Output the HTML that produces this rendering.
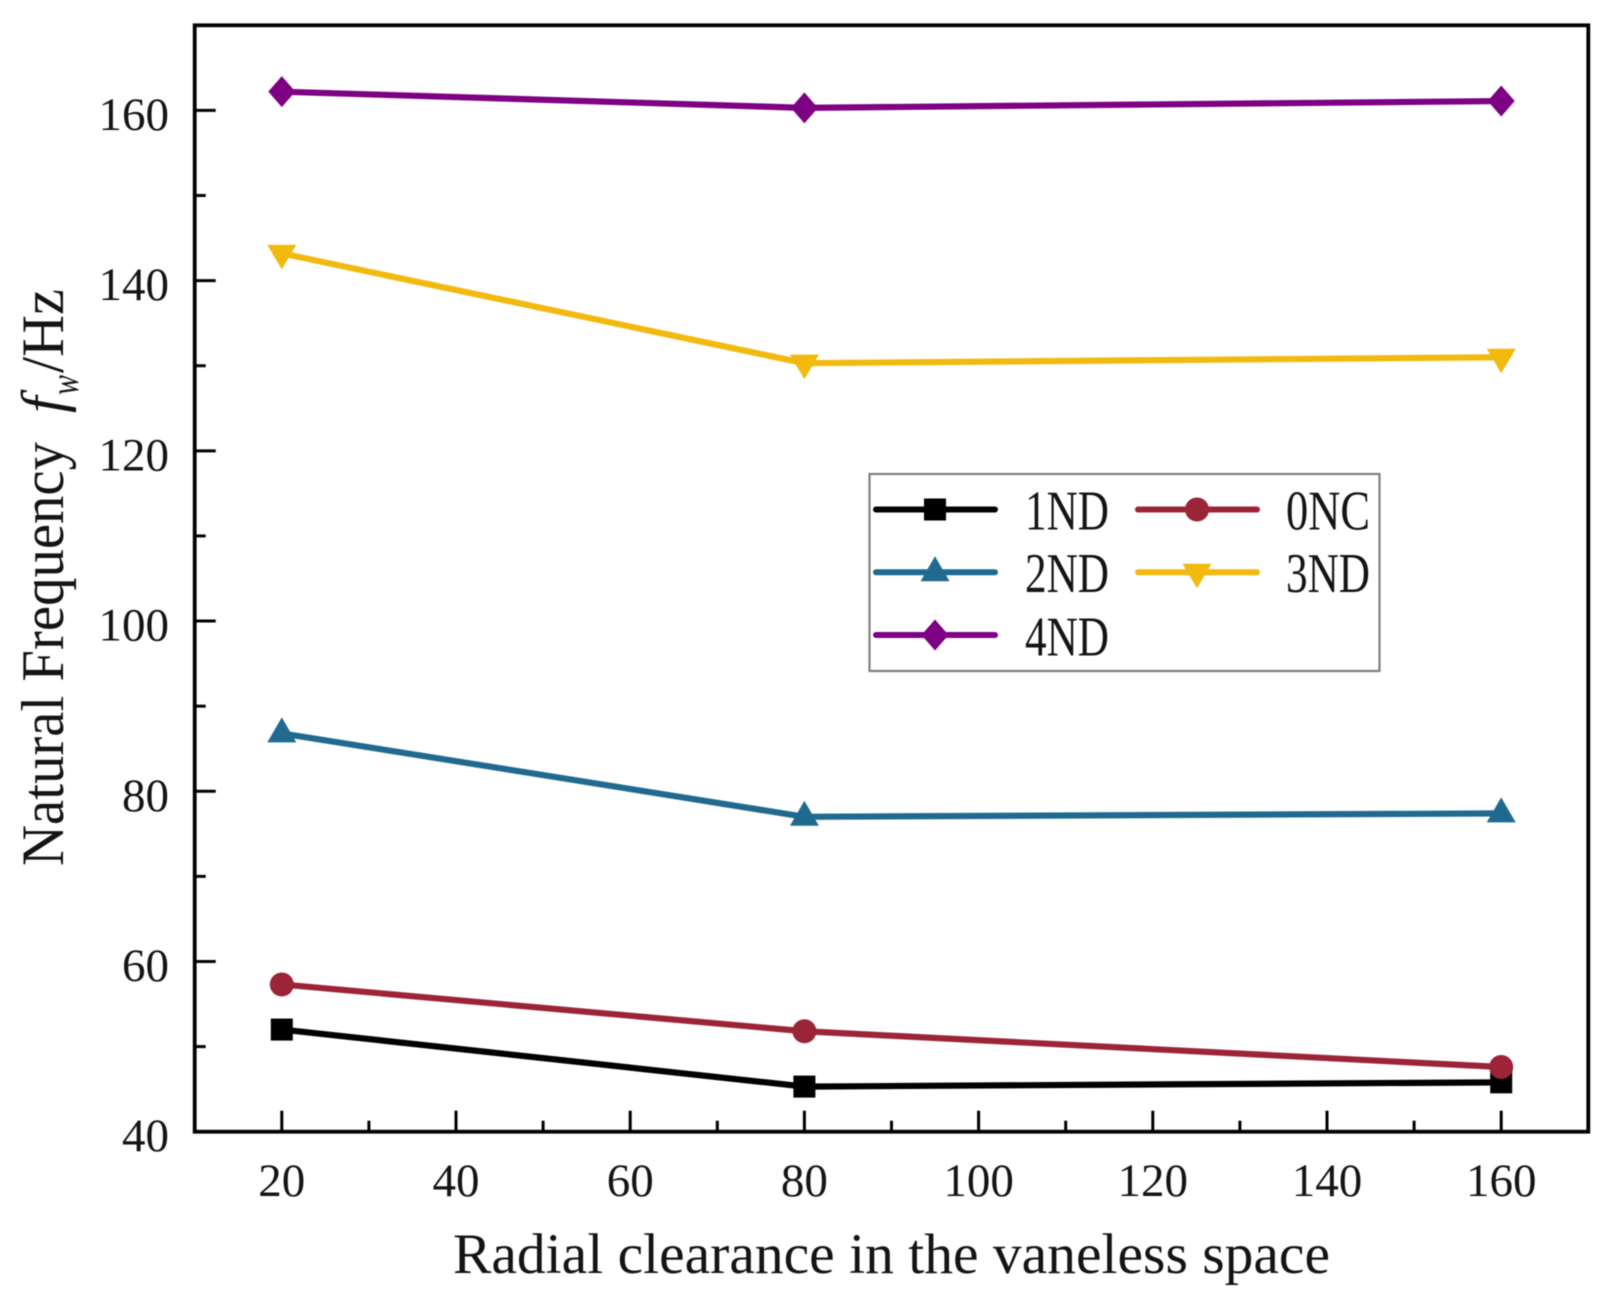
<!DOCTYPE html>
<html lang="en">
<head>
<meta charset="utf-8">
<title>Natural Frequency vs Radial Clearance</title>
<style>
html,body{margin:0;padding:0;background:#fff;}
svg{display:block;filter:blur(0.5px);}
text{font-family:"Liberation Serif","Noto Serif CJK SC",serif;fill:#141414;}
</style>
</head>
<body>
<svg id="chart" xmlns="http://www.w3.org/2000/svg" width="1611" height="1308" viewBox="0 0 1611 1308">
<rect x="0" y="0" width="1611" height="1308" fill="#ffffff"/>
<g id="series-layer"></g>
<g id="axes-layer"></g>
<text x="453" y="1273" font-size="57" textLength="877" lengthAdjust="spacingAndGlyphs">Radial clearance in the vaneless space</text>
<g transform="translate(63 866) rotate(-90)">
<text x="0" y="0" font-size="60" textLength="424" lengthAdjust="spacingAndGlyphs">Natural Frequency</text>
<text x="453" y="0" font-size="60" font-style="italic">f</text>
<text x="471" y="15" font-size="40" font-style="italic" textLength="20" lengthAdjust="spacingAndGlyphs">w</text>
<text x="493" y="0" font-size="60" textLength="84" lengthAdjust="spacingAndGlyphs">/Hz</text>
</g>
<g id="legend">
<rect x="869.5" y="474" width="510" height="197" fill="#ffffff" stroke="#7f7f7f" stroke-width="2.2"/>
</g>
</svg>
<script>
const categories = [20, 80, 160];
const xTickLabels = [20, 40, 60, 80, 100, 120, 140, 160];
const xMinorTicks = [30, 50, 70, 90, 110, 130, 150];
const yTickLabels = [40, 60, 80, 100, 120, 140, 160];
const yMinorTicks = [50, 70, 90, 110, 130, 150];
const values1ND = [52.0, 45.3, 45.8];
const values0NC = [57.3, 51.8, 47.6];
const values2ND = [86.8, 77.0, 77.4];
const values3ND = [143.2, 130.3, 131.0];
const values4ND = [162.2, 160.3, 161.1];
const seriesNames = ['1ND', '0NC', '2ND', '3ND', '4ND'];

const NS = 'http://www.w3.org/2000/svg';
const plot = {left: 194.7, right: 1588.3, top: 25.3, bottom: 1131.7};
const xDomain = [10, 170];
const yDomain = [40, 170];
const sx = v => plot.left + (v - xDomain[0]) * (plot.right - plot.left) / (xDomain[1] - xDomain[0]);
const sy = v => plot.bottom - (v - yDomain[0]) * (plot.bottom - plot.top) / (yDomain[1] - yDomain[0]);

function mk(tag, attrs, parent) {
  const el = document.createElementNS(NS, tag);
  for (const k in attrs) el.setAttribute(k, attrs[k]);
  parent.appendChild(el);
  return el;
}

function drawMarker(shape, cx, cy, color, parent) {
  if (shape === 'square') return mk('rect', {x: cx - 11, y: cy - 11, width: 22, height: 22, fill: color}, parent);
  if (shape === 'circle') return mk('circle', {cx: cx, cy: cy, r: 12, fill: color}, parent);
  let pts;
  if (shape === 'up') pts = [[cx, cy - 16], [cx + 14.5, cy + 9], [cx - 14.5, cy + 9]];
  if (shape === 'down') pts = [[cx - 14.5, cy - 8.5], [cx + 14.5, cy - 8.5], [cx, cy + 16]];
  if (shape === 'diamond') pts = [[cx, cy - 15.5], [cx + 13.5, cy], [cx, cy + 15.5], [cx - 13.5, cy]];
  return mk('polygon', {points: pts.map(p => p.join(',')).join(' '), fill: color}, parent);
}

const seriesValues = [values1ND, values0NC, values2ND, values3ND, values4ND];
const seriesColors = ['#000000', '#9c2437', '#1f6a8e', '#f2b90f', '#7e0083'];
const seriesShapes = ['square', 'circle', 'up', 'down', 'diamond'];

const seriesLayer = document.getElementById('series-layer');
seriesValues.forEach(function (vals, i) {
  const g = mk('g', {}, seriesLayer);
  
  
  const pts = vals.map((v, j) => sx(categories[j]) + ',' + sy(v)).join(' ');
  const line = mk('polyline', {points: pts, fill: 'none', stroke: seriesColors[i], 'stroke-width': 6.2, 'stroke-linejoin': 'round'}, g);
  
  
  vals.forEach(function (v, j) {
    const m = drawMarker(seriesShapes[i], sx(categories[j]), sy(v), seriesColors[i], g);
    
    
  });
});

const axes = document.getElementById('axes-layer');
const frame = mk('rect', {x: plot.left, y: plot.top, width: plot.right - plot.left, height: plot.bottom - plot.top, fill: 'none', stroke: '#000', 'stroke-width': 3.8}, axes);



xTickLabels.forEach(function (v) {
  const t = mk('line', {x1: sx(v), x2: sx(v), y1: plot.bottom, y2: plot.bottom - 21, stroke: '#000', 'stroke-width': 3}, axes);
  
  
  const l = mk('text', {x: sx(v), y: 1196, 'font-size': 47, 'text-anchor': 'middle'}, axes);
  l.textContent = String(v);
  
  
});
xMinorTicks.forEach(function (v) {
  const t = mk('line', {x1: sx(v), x2: sx(v), y1: plot.bottom, y2: plot.bottom - 11, stroke: '#000', 'stroke-width': 3}, axes);
  
  
});
yTickLabels.forEach(function (v) {
  const t = mk('line', {x1: plot.left, x2: plot.left + 21, y1: sy(v), y2: sy(v), stroke: '#000', 'stroke-width': 3}, axes);
  
  
  const l = mk('text', {x: 169, y: sy(v) + 19.5, 'font-size': 47, 'text-anchor': 'end'}, axes);
  l.textContent = String(v);
  
  
});
yMinorTicks.forEach(function (v) {
  const t = mk('line', {x1: plot.left, x2: plot.left + 11, y1: sy(v), y2: sy(v), stroke: '#000', 'stroke-width': 3}, axes);
  
  
});

const legend = document.getElementById('legend');
const legendColumns = [
  {x1: 876, x2: 995, mx: 935, tx: 1025},
  {x1: 1138, x2: 1257, mx: 1197, tx: 1286}
];
const legendRows = [{y: 509.5, base: 529.5}, {y: 572.3, base: 592}, {y: 635, base: 655.5}];
const legendSlots = [[0, 0], [1, 0], [0, 1], [1, 1], [0, 2]];
seriesNames.forEach(function (name, i) {
  const col = legendColumns[legendSlots[i][0]];
  const row = legendRows[legendSlots[i][1]];
  const g = mk('g', {}, legend);
  
  
  const ln = mk('line', {x1: col.x1, x2: col.x2, y1: row.y, y2: row.y, stroke: seriesColors[i], 'stroke-width': 6, 'stroke-linecap': 'round'}, g);
  
  
  const mkr = drawMarker(seriesShapes[i], col.mx, row.y, seriesColors[i], g);
  
  
  const tx = mk('text', {x: col.tx, y: row.base, 'font-size': 56, textLength: 84, lengthAdjust: 'spacingAndGlyphs'}, g);
  tx.textContent = name;
  
  
});
</script>
</body>
</html>
